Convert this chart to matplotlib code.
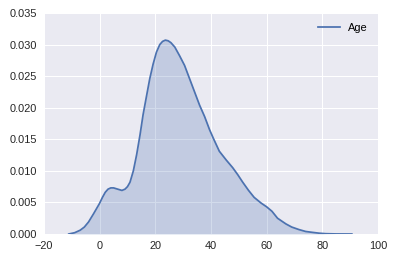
import matplotlib
matplotlib.use("Agg")
import matplotlib.pyplot as plt

# KDE of Age
age = [-11.1, -9.0, -7.0, -5.5, -4.0, -2.2, -0.1, 1.0, 2.0, 3.0, 4.0, 5.0,
       6.5, 8.0, 9.1, 10.0, 10.9, 12.1, 13.3, 14.5, 15.6, 16.9, 18.0, 19.2,
       20.4, 21.6, 22.6, 23.6, 24.6, 25.6, 27.0, 28.75, 30.5, 32.3, 34.1,
       35.9, 37.7, 39.5, 41.0, 43.0, 45.5, 47.8, 49.6, 51.4, 53.5, 55.5,
       58.0, 60.0, 61.9, 63.9, 66.9, 69.0, 71.6, 74.0, 76.4, 79.0, 81.1,
       85.0, 90.6]
density = [0.0, 0.0002, 0.0006, 0.0011, 0.0019, 0.0032, 0.0048, 0.0058,
           0.0066, 0.0071, 0.0073, 0.0073, 0.0071, 0.0069, 0.0071, 0.0075,
           0.0082, 0.0100, 0.0126, 0.0157, 0.0189, 0.0220, 0.0246, 0.0269,
           0.0288, 0.0300, 0.0305, 0.0307, 0.0306, 0.0303, 0.0296, 0.0282,
           0.0267, 0.0246, 0.0225, 0.0204, 0.0186, 0.0165, 0.0150, 0.0131,
           0.0117, 0.0105, 0.0094, 0.0082, 0.0069, 0.0058, 0.0049, 0.0043,
           0.0036, 0.0025, 0.0016, 0.0011, 0.0007, 0.0004, 0.00026, 0.00012,
           0.00005, 0.00001, 0.0]

plt.rcParams["font.family"] = ["Liberation Sans", "DejaVu Sans"]

fig = plt.figure(figsize=(394 / 72, 259 / 72), dpi=72)
ax = fig.add_axes([44 / 394, 25 / 259, 334 / 394, 221 / 259])
ax.set_facecolor("#EAEAF2")
for s in ax.spines.values():
    s.set_visible(False)
ax.grid(True, color="white", linewidth=1)
ax.set_axisbelow(True)

ax.plot(age, density, color="#4C72B0", linewidth=1.75, label="Age")
ax.fill_between(age, density, color="#4C72B0", alpha=0.25, linewidth=0)

ax.set_xlim(-20, 100)
ax.set_ylim(0, 0.035)
ax.set_xticks(range(-20, 101, 20))
ax.set_yticks([i * 0.005 for i in range(8)])
ax.set_yticklabels([f"{i * 0.005:.3f}" for i in range(8)])
ax.tick_params(length=0, labelsize=11, colors="#262626", pad=7)

ax.legend(loc="upper right", frameon=False, fontsize=11)

fig.savefig("out.png", dpi=72)
